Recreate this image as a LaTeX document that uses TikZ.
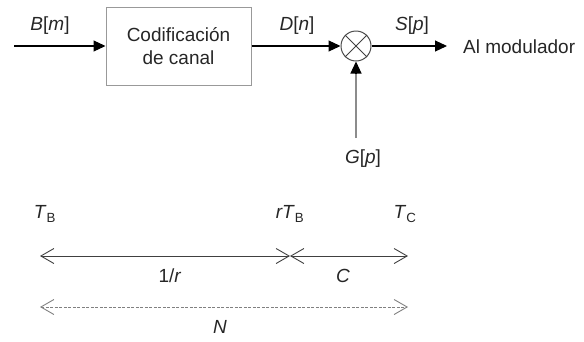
\documentclass[tikz,border=0pt]{standalone}
\usepackage{fontspec}
\setmainfont{Liberation Sans}
\usetikzlibrary{arrows.meta}
\begin{document}
\begin{tikzpicture}[x=1pt,y=-1pt,
  every node/.style={font=\fontsize{19}{22}\selectfont, text=black!85, inner sep=0pt},
  flow/.style={line width=1.1pt, -{Triangle[length=12pt,width=11pt]}},
  span/.style={line width=0.8pt, black!75, {Straight Barb[length=13pt,width=15pt,line width=0.9pt]}-{Straight Barb[length=13pt,width=15pt,line width=0.9pt]}},
  block/.style={draw=black!40, line width=1pt, minimum width=145pt, minimum height=78pt, align=center, font=\fontsize{19}{23}\selectfont},
  mixer/.style={draw=black!70, circle, line width=1pt, minimum size=30pt}]
\useasboundingbox (0,0) rectangle (584,341);

% signal chain
\coordinate (in) at (14,46);
\node[block] (cod) at (178.5,46) {Codificación\\de canal};
\node[mixer] (mix) at (356,46) {};
\draw[line width=0.9pt, black!75] (mix.north west) -- (mix.south east) (mix.north east) -- (mix.south west);
\coordinate (out) at (447,46);
\coordinate (gin) at (356,138);

\draw[flow] (in) -- (cod.west);
\draw[flow] (cod.east) -- (mix.west);
\draw[flow] (mix.east) -- (out);
\draw[line width=1.1pt, black!45] (gin) -- ([yshift=-12pt]mix.south);
\draw[-{Triangle[length=12pt,width=11pt]}, line width=1.1pt] ([yshift=-12pt]mix.south) -- (mix.south);

\node (bm) at (50,26) {\textit{B}[\textit{m}]};
\node (dn) at (297,26) {\textit{D}[\textit{n}]};
\node (sp) at (412,26) {\textit{S}[\textit{p}]};
\node[anchor=west] (mod) at (463,47) {Al modulador};
\node (gp) at (363,159) {\textit{G}[\textit{p}]};

% time spans
\node (tb) at (45,214) {\textit{T}\textsubscript{B}};
\node (rtb) at (290,214) {\textit{rT}\textsubscript{B}};
\node (tc) at (405,214) {\textit{T}\textsubscript{C}};

\coordinate (a0) at (40,256);
\coordinate (a1) at (290,256);
\coordinate (a2) at (408,256);
\draw[span] (a0) -- (a1);
\draw[span] (a1) -- (a2);
\node (ir) at (170,276) {1/\textit{r}};
\node (c) at (343,276) {\textit{C}};

\coordinate (n0) at (40,307);
\coordinate (n1) at (408,307);
\draw[span, black!50, dash pattern=on 3pt off 1.5pt] (n0) -- (n1);
\node (nn) at (220,327) {\textit{N}};
\end{tikzpicture}
\end{document}
